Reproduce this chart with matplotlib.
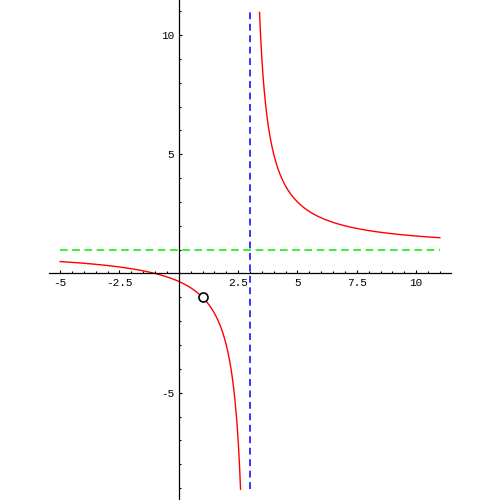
import numpy as np
import matplotlib
matplotlib.use("Agg")
import matplotlib.pyplot as plt

# f(x) = (x + 1)(x - 1) / ((x - 3)(x - 1))  -> hole at x = 1
num_root = -1.0
den_root = 3.0
hole_x, hole_y = 1.0, -1.0
x_range = (-5, 11)
y_clip = (-9.05, 11.0)
v_asym = 3.0
h_asym = 1.0

x_major = [-5, -2.5, 2.5, 5, 7.5, 10]
x_labels = ["-5", "-2.5", "2.5", "5", "7.5", "10"]
y_major = [-5, 5, 10]
y_labels = ["-5", "5", "10"]

fig = plt.figure(figsize=(5, 5), dpi=100)
ax = fig.add_axes([49 / 500, 0, 402 / 500, 1])

x = np.linspace(x_range[0], x_range[1], 4000)
with np.errstate(divide="ignore", invalid="ignore"):
    y = (x - num_root) / (x - den_root)
y[(y < y_clip[0]) | (y > y_clip[1])] = np.nan
y[np.abs(x - den_root) < 0.05] = np.nan

ax.plot(x, y, color="red", lw=1.0)
ax.plot([v_asym, v_asym], list(y_clip), color="blue", lw=1.1, dashes=(4.5, 3))
ax.plot(list(x_range), [h_asym, h_asym], color="#00ee00", lw=1.1, dashes=(5, 3))
ax.plot([hole_x], [hole_y], "o", ms=6.5, mfc="white", mec="black", mew=1.2, zorder=5)

ax.set_xlim(-5.47, 11.47)
ax.set_ylim(-9.5, 11.47)
ax.patch.set_alpha(0)
for s in ["top", "right"]:
    ax.spines[s].set_visible(False)
ax.spines["left"].set_position(("data", 0))
ax.spines["bottom"].set_position(("data", 0))
ax.spines["left"].set_linewidth(0.9)
ax.spines["bottom"].set_linewidth(0.9)

ax.set_xticks(x_major)
ax.set_xticklabels(x_labels)
ax.set_yticks(y_major)
ax.set_yticklabels(y_labels)
ax.set_xticks(np.arange(-5, 11.01, 0.5), minor=True)
ax.set_yticks(np.arange(-9, 11.01, 1), minor=True)
ax.tick_params(which="major", direction="in", length=2.4, width=0.8,
               labelsize=8, pad=3.5)
ax.tick_params(which="minor", direction="in", length=1.5, width=0.8)
for lab in ax.get_xticklabels() + ax.get_yticklabels():
    lab.set_family("Liberation Mono")

fig.savefig("out.png", dpi=100)
